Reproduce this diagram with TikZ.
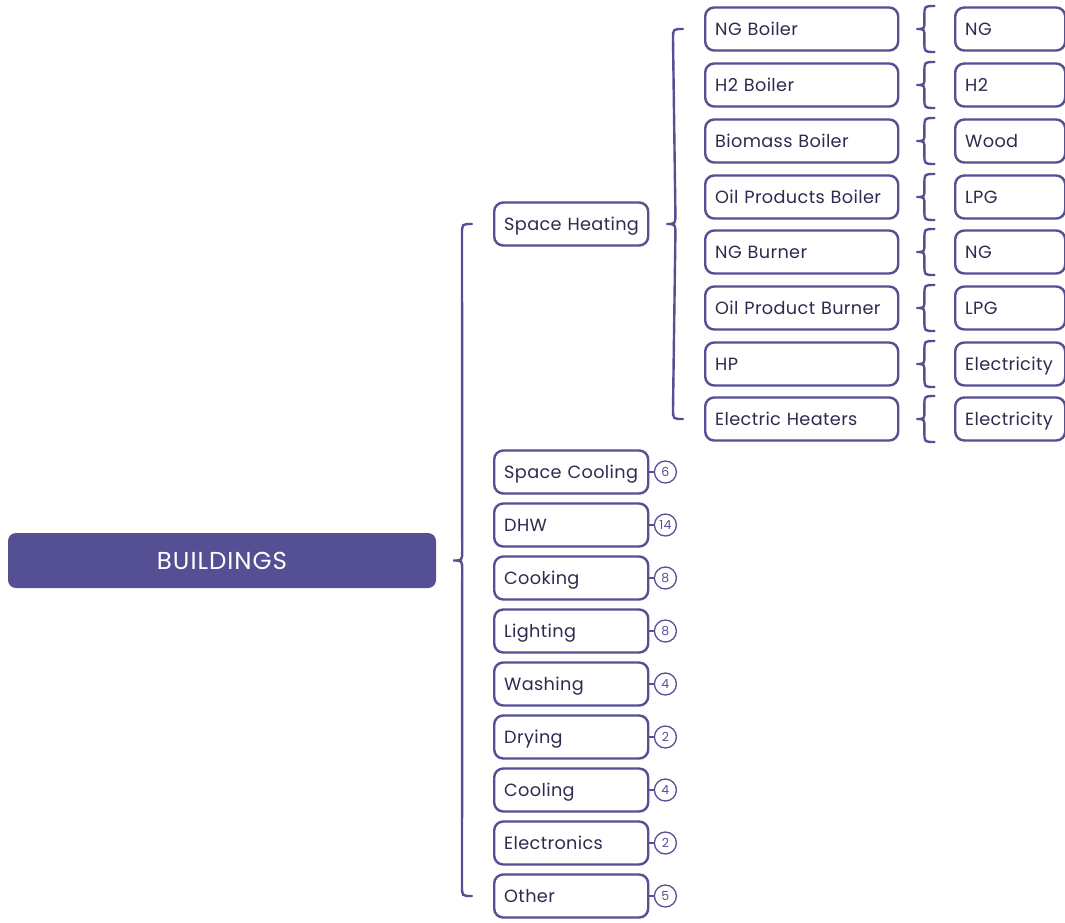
\documentclass[tikz,border=0pt]{standalone}
\usepackage{fontspec}
\setmainfont{Poppins}[LetterSpace=2.0]
\newfontfamily\rootfont{Poppins}[LetterSpace=4]
\usetikzlibrary{calc}
\definecolor{mmpurple}{HTML}{554F94}
\definecolor{mmtext}{HTML}{2E2B4F}
\tikzset{
  topic/.style={draw=mmpurple, line width=2.4pt, rounded corners=9pt, fill=white,
    text=mmtext, minimum height=43pt, inner xsep=10pt, inner ysep=0pt, anchor=west,
    font=\fontsize{17.7}{21}\selectfont, align=left, text height=12.4pt, text depth=0pt,
    execute at begin node=\hbox\bgroup, execute at end node=\egroup},
  sub/.style={topic, text width=134pt},
  tech/.style={topic, text width=173pt},
  fuel/.style={topic, text width=90pt},
  count/.style={circle, draw=mmpurple, line width=1.3pt, minimum size=22pt,
    inner sep=0pt, text=mmpurple, font=\fontsize{12.5}{13}\selectfont},
  brace/.style={draw=mmpurple, line width=2.4pt, line cap=round},
  link/.style={draw=mmpurple, line width=2pt}
}
\begin{document}
\begin{tikzpicture}[x=1pt,y=-1pt]
\useasboundingbox (0,0) rectangle (1065,922);

% root
\node[fill=mmpurple, rounded corners=8pt, minimum width=428pt, minimum height=55pt,
  text=white, font=\rootfont\fontsize{24.5}{27}\selectfont, text height=17pt, text depth=0pt]
  (root) at (222,560.5) {BUILDINGS};

% end uses
\node[sub] (sh) at (493,224) {Space Heating};
\foreach \n/\y/\t/\k in {sc/472/Space Cooling/6, dhw/525/DHW/14, cook/578/Cooking/8,
    light/631/Lighting/8, wash/684/Washing/4, dry/737/Drying/2, cool/790/Cooling/4,
    elec/843/Electronics/2, oth/896/Other/5} {
  \node[sub] (\n) at (493,\y) {\t};
  \node[count] (\n-k) at ($(\n.east)+(16,0)$) {\k};
  \draw[link] (\n) -- (\n-k);
}

% space heating technologies and their fuels
\foreach \i/\y/\t/\f in {1/29/NG Boiler/NG, 2/85/H2 Boiler/H2, 3/141/Biomass Boiler/Wood,
    4/197/Oil Products Boiler/LPG, 5/252/NG Burner/NG, 6/308/Oil Product Burner/LPG,
    7/364/HP/Electricity, 8/419/Electric Heaters/Electricity} {
  \node[tech] (t\i) at (704,\y) {\t};
  \node[fuel] (f\i) at (954,\y) {\f};
  \coordinate (c\i) at ($(t\i.east)+(17,0)$);
  \draw[brace] ($(c\i)+(18,-23)$) .. controls ($(c\i)+(8,-23)$) .. ($(c\i)+(8,-13)$)
    -- ($(c\i)+(8,-8)$) .. controls ($(c\i)+(8,0)$) .. (c\i)
    .. controls ($(c\i)+(8,0)$) .. ($(c\i)+(8,8)$)
    -- ($(c\i)+(8,13)$) .. controls ($(c\i)+(8,23)$) .. ($(c\i)+(18,23)$);
}

% brace from the root to the end uses
\coordinate (mt) at ($(sh.west)+(-21,0)$);
\coordinate (mb) at ($(oth.west)+(-21,0)$);
\coordinate (mc) at ($(root.east)+(17,0)$);
\draw[brace] (mt) .. controls ($(mt)+(-10,0)$) .. ($(mt)+(-10,10)$)
  -- ($(mc)+(9,-10)$) .. controls ($(mc)+(9,0)$) .. (mc)
  .. controls ($(mc)+(9,0)$) .. ($(mc)+(9,10)$)
  -- ($(mb)+(-10,-10)$) .. controls ($(mb)+(-10,0)$) .. (mb);

% brace from space heating to its technologies
\coordinate (ht) at ($(t1.west)+(-21,0)$);
\coordinate (hb) at ($(t8.west)+(-21,0)$);
\coordinate (hc) at ($(sh.east)+(17,0)$);
\draw[brace] (ht) .. controls ($(ht)+(-10,0)$) .. ($(ht)+(-10,10)$)
  -- ($(hc)+(9,-10)$) .. controls ($(hc)+(9,0)$) .. (hc)
  .. controls ($(hc)+(9,0)$) .. ($(hc)+(9,10)$)
  -- ($(hb)+(-10,-10)$) .. controls ($(hb)+(-10,0)$) .. (hb);
\end{tikzpicture}
\end{document}
